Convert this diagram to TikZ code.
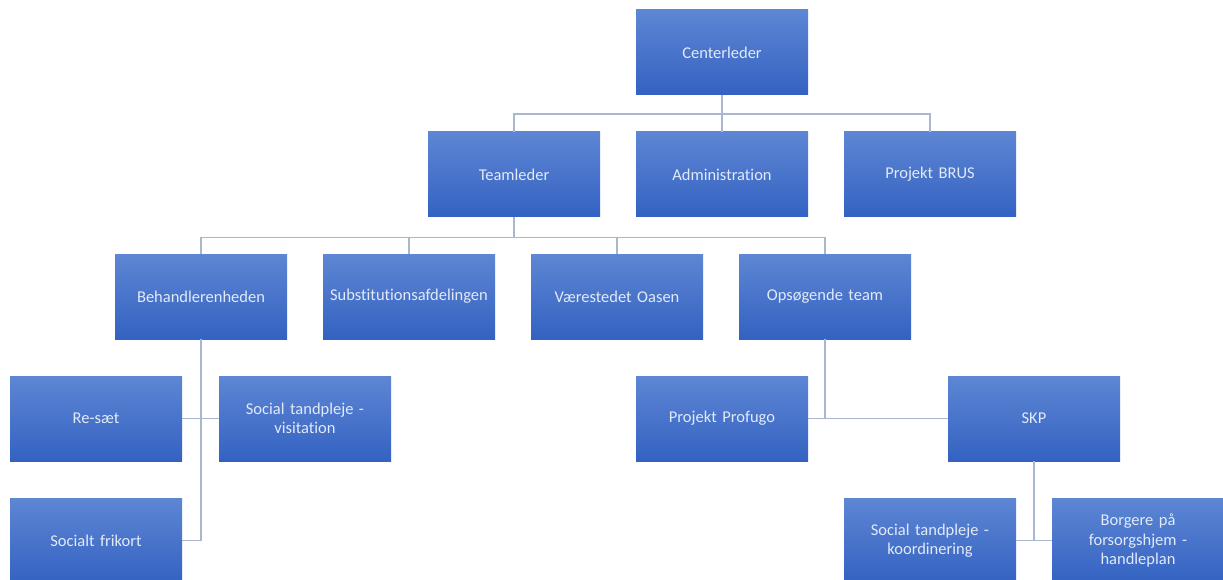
\documentclass[tikz,border=0pt]{standalone}
\usepackage{fontspec}
\setmainfont[Ligatures=NoCommon]{Carlito}
\usepackage{xcolor}
\usepackage{tikz}
\usetikzlibrary{positioning}
\definecolor{boxtop}{HTML}{5D86D3}
\definecolor{boxbot}{HTML}{3462C2}
\definecolor{boxtext}{HTML}{E2EAF7}
\definecolor{linkcol}{HTML}{A9B6CF}
\tikzset{
  unit/.style={rectangle, minimum width=172, minimum height=85, inner sep=1pt,
    top color=boxtop, bottom color=boxbot, draw=none, text=boxtext,
    font=\fontsize{16.5}{19.5}\selectfont, align=center, text width=170},
  link/.style={draw=linkcol, line width=1.4pt}
}

\begin{document}
\begin{tikzpicture}[x=1pt,y=-1pt]
\useasboundingbox (0,0) rectangle (1223,580);
\fill[white] (0,0) rectangle (1223,580);
\node[unit] (centerleder) at (722,52.5) {Centerleder};
\node[unit] (teamleder) at (514,174.5) {Teamleder};
\node[unit] (admin) at (722,174.5) {Administration};
\node[unit] (brus) at (930,174.5) {Projekt BRUS};
\node[unit] (behandler) at (201,296.5) {Behandlerenheden};
\node[unit] (subst) at (409,296.5) {Substitutionsafdelingen};
\node[unit] (oasen) at (617,296.5) {Værestedet Oasen};
\node[unit] (opsoeg) at (825,296.5) {Opsøgende team};
\node[unit] (reset) at (96,418.5) {Re-sæt};
\node[unit] (visitation) at (305,418.5) {Social tandpleje -\\visitation};
\node[unit] (frikort) at (96,540.5) {Socialt frikort};
\node[unit] (profugo) at (722,418.5) {Projekt Profugo};
\node[unit] (skp) at (1034,418.5) {SKP};
\node[unit] (koordinering) at (930,540.5) {Social tandpleje -\\koordinering};
\node[unit] (borgere) at (1138,540.5) {Borgere på\\forsorgshjem -\\handleplan};
% top levels
\draw[link] (centerleder.south) -- ++(0,19) -| (teamleder.north);
\draw[link] (centerleder.south) -- ++(0,19) -| (brus.north);
\draw[link] (centerleder.south) -- (admin.north);
\draw[link] (teamleder.south) -- ++(0,20) -| (behandler.north);
\draw[link] (teamleder.south) -- ++(0,20) -| (subst.north);
\draw[link] (teamleder.south) -- ++(0,20) -| (oasen.north);
\draw[link] (teamleder.south) -- ++(0,20) -| (opsoeg.north);
% lower levels
\draw[link] (behandler.south) |- (frikort.east);
\draw[link] (reset.east) -- (visitation.west);
\draw[link] (opsoeg.south) |- (profugo.east);
\draw[link] (profugo.east) -- (skp.west);
\draw[link] (skp.south) -- (skp.south |- koordinering.east);
\draw[link] (koordinering.east) -- (borgere.west);
\end{tikzpicture}
\end{document}
